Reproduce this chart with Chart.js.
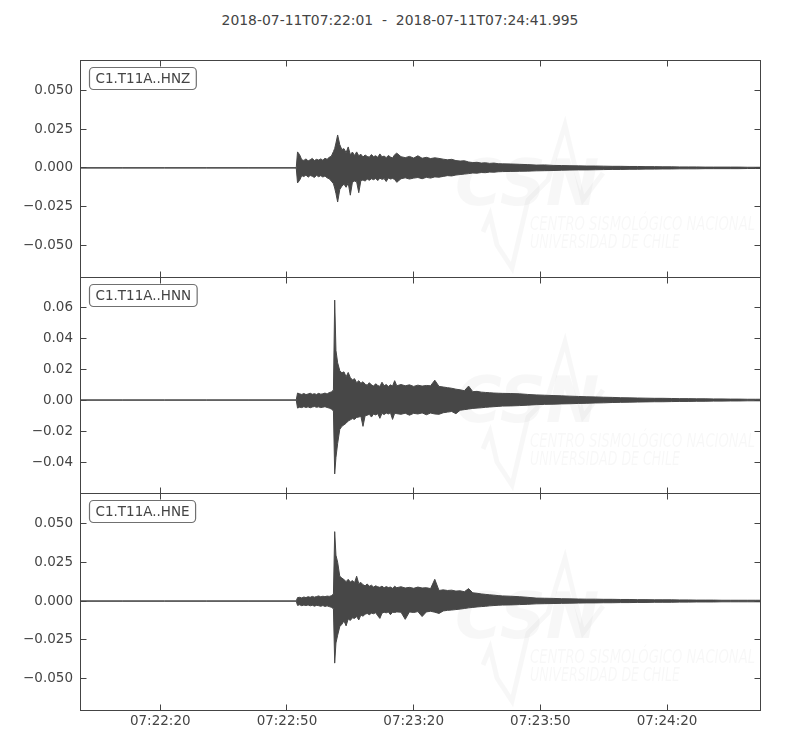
<!DOCTYPE html>
<html>
<head>
<meta charset="utf-8">
<script src="https://cdn.jsdelivr.net/npm/chart.js@4.4.1/dist/chart.umd.min.js"></script>
<style>
  body { margin: 0; background: #fff; width: 800px; height: 750px; position: relative; overflow: hidden; font-family: "DejaVu Sans", sans-serif; }
  #title { position: absolute; top: 12px; left: 0; width: 800px; text-align: center; font-size: 13.9px; line-height: 16px; color: #444; white-space: pre; }
  canvas { position: absolute; left: 0; }
</style>
</head>
<body>
<div id="title">2018-07-11T07:22:01  -  2018-07-11T07:24:41.995</div>
<canvas id="panelZ" width="800" height="237" style="top:50px"></canvas>
<canvas id="panelN" width="800" height="236" style="top:267px"></canvas>
<canvas id="panelE" width="800" height="257" style="top:483px"></canvas>
<script>
// seconds after 07:22:01
const timeSec = [
  0, 10, 20, 30, 40, 51.2,
  51.5, 52, 52.5, 53, 53.5, 54, 54.5, 55, 55.5, 56, 56.5, 57, 57.5, 58, 58.5, 59, 59.5, 60,
  60.3, 60.6,
  61, 61.5, 62, 62.5, 63, 63.5, 64, 64.5, 65, 65.5, 66, 66.5, 67, 67.5, 68, 68.5, 69, 69.5, 70, 70.5, 71, 71.5, 72, 72.5, 73, 73.5, 74, 74.5, 75,
  76, 77, 78, 79, 80, 81, 82, 83, 84, 85, 86, 87, 88, 89, 90, 91, 92, 93, 94, 95, 96, 97, 98, 99, 100,
  102, 104, 106, 108, 110, 112, 114, 116, 118, 120, 122, 124, 126, 128, 130, 132, 134, 136, 138, 140, 142, 144, 146, 148, 150, 152, 154, 156, 158, 160,
  161
];

// envelope (max / min) of each trace
const hnzUpper = [
  0.0001, 0.0001, 0.0001, 0.0001, 0.0001, 0.0001,
  0.0103, 0.0085, 0.0052, 0.0048, 0.0058, 0.0045, 0.0052, 0.0061, 0.0047, 0.0055, 0.0050, 0.0058, 0.0049, 0.0062, 0.0055, 0.0068, 0.0075, 0.0105,
  0.0125, 0.0160,
  0.0212, 0.0150, 0.0118, 0.0124, 0.0098, 0.0135, 0.0085, 0.0102, 0.0080, 0.0103, 0.0078, 0.0088, 0.0070, 0.0083, 0.0074, 0.0069, 0.0086, 0.0072, 0.0078, 0.0068, 0.0090, 0.0071, 0.0076, 0.0066, 0.0080, 0.0070, 0.0064, 0.0085, 0.0095,
  0.0072, 0.0066, 0.0074, 0.0063, 0.0078, 0.0062, 0.0068, 0.0060, 0.0065, 0.0061, 0.0056, 0.0052, 0.0055, 0.0047, 0.0044, 0.0046, 0.0038, 0.0034, 0.0036, 0.0031, 0.0033, 0.0029, 0.0031, 0.0027, 0.0026,
  0.0025, 0.0023, 0.0021, 0.0018, 0.0019, 0.0016, 0.0015, 0.0014, 0.0013, 0.0012, 0.0012, 0.0011, 0.0010, 0.0010, 0.0009, 0.0009, 0.0008, 0.0008, 0.0007, 0.0007, 0.0006, 0.0006, 0.0006, 0.0005, 0.0005, 0.0005, 0.0005, 0.0005, 0.0004, 0.0004,
  0.0004
];
const hnzLower = [
  -0.0001, -0.0001, -0.0001, -0.0001, -0.0001, -0.0001,
  -0.0097, -0.0080, -0.0050, -0.0056, -0.0046, -0.0060, -0.0049, -0.0054, -0.0062, -0.0048, -0.0057, -0.0050, -0.0059, -0.0052, -0.0064, -0.0070, -0.0085, -0.0102,
  -0.0130, -0.0165,
  -0.0220, -0.0140, -0.0118, -0.0105, -0.0125, -0.0098, -0.0176, -0.0092, -0.0085, -0.0090, -0.0160, -0.0082, -0.0078, -0.0085, -0.0072, -0.0080, -0.0070, -0.0076, -0.0068, -0.0082, -0.0066, -0.0074, -0.0069, -0.0088, -0.0065, -0.0072, -0.0068, -0.0075, -0.0093,
  -0.0070, -0.0064, -0.0072, -0.0066, -0.0062, -0.0070, -0.0061, -0.0066, -0.0058, -0.0060, -0.0055, -0.0050, -0.0052, -0.0046, -0.0043, -0.0040, -0.0037, -0.0033, -0.0034, -0.0030, -0.0031, -0.0027, -0.0028, -0.0025, -0.0024,
  -0.0023, -0.0022, -0.0021, -0.0019, -0.0018, -0.0017, -0.0015, -0.0014, -0.0013, -0.0013, -0.0012, -0.0011, -0.0010, -0.0010, -0.0009, -0.0009, -0.0008, -0.0008, -0.0007, -0.0007, -0.0006, -0.0006, -0.0006, -0.0005, -0.0005, -0.0005, -0.0005, -0.0005, -0.0004, -0.0004,
  -0.0004
];
const hnnUpper = [
  0.0001, 0.0001, 0.0001, 0.0001, 0.0001, 0.0001,
  0.0045, 0.0040, 0.0036, 0.0042, 0.0035, 0.0039, 0.0044, 0.0037, 0.0041, 0.0036, 0.0043, 0.0038, 0.0040, 0.0045, 0.0039, 0.0048, 0.0052, 0.0065,
  0.0645, 0.0320,
  0.0240, 0.0190, 0.0175, 0.0182, 0.0150, 0.0178, 0.0145, 0.0130, 0.0138, 0.0112, 0.0125, 0.0108, 0.0118, 0.0102, 0.0096, 0.0112, 0.0098, 0.0090, 0.0105, 0.0094, 0.0088, 0.0115, 0.0092, 0.0100, 0.0087, 0.0098, 0.0090, 0.0125, 0.0092,
  0.0100, 0.0092, 0.0098, 0.0088, 0.0096, 0.0090, 0.0094, 0.0092, 0.0128, 0.0088, 0.0084, 0.0080, 0.0076, 0.0070, 0.0066, 0.0060, 0.0090, 0.0054, 0.0056, 0.0051, 0.0049, 0.0047, 0.0045, 0.0044, 0.0043,
  0.0042, 0.0040, 0.0036, 0.0033, 0.0031, 0.0029, 0.0027, 0.0025, 0.0023, 0.0021, 0.0020, 0.0018, 0.0017, 0.0015, 0.0014, 0.0013, 0.0012, 0.0011, 0.0011, 0.0010, 0.0009, 0.0009, 0.0008, 0.0008, 0.0007, 0.0007, 0.0006, 0.0006, 0.0005, 0.0005,
  0.0005
];
const hnnLower = [
  -0.0001, -0.0001, -0.0001, -0.0001, -0.0001, -0.0001,
  -0.0052, -0.0046, -0.0049, -0.0043, -0.0048, -0.0044, -0.0050, -0.0045, -0.0042, -0.0047, -0.0044, -0.0049, -0.0046, -0.0043, -0.0048, -0.0052, -0.0058, -0.0070,
  -0.0477, -0.0370,
  -0.0280, -0.0190, -0.0170, -0.0160, -0.0150, -0.0135, -0.0128, -0.0120, -0.0125, -0.0112, -0.0110, -0.0105, -0.0170, -0.0102, -0.0098, -0.0092, -0.0110, -0.0090, -0.0096, -0.0088, -0.0118, -0.0086, -0.0094, -0.0084, -0.0090, -0.0082, -0.0125, -0.0085, -0.0088,
  -0.0092, -0.0085, -0.0098, -0.0086, -0.0090, -0.0083, -0.0095, -0.0084, -0.0090, -0.0092, -0.0082, -0.0078, -0.0074, -0.0088, -0.0066, -0.0062, -0.0058, -0.0054, -0.0052, -0.0050, -0.0047, -0.0045, -0.0043, -0.0041, -0.0039,
  -0.0038, -0.0036, -0.0033, -0.0030, -0.0028, -0.0027, -0.0025, -0.0024, -0.0022, -0.0021, -0.0019, -0.0018, -0.0016, -0.0015, -0.0014, -0.0013, -0.0012, -0.0011, -0.0011, -0.0010, -0.0009, -0.0009, -0.0008, -0.0008, -0.0007, -0.0007, -0.0006, -0.0006, -0.0005, -0.0005,
  -0.0005
];
const hneUpper = [
  0.0001, 0.0001, 0.0001, 0.0001, 0.0001, 0.0001,
  0.0022, 0.0024, 0.0020, 0.0026, 0.0022, 0.0028, 0.0024, 0.0030, 0.0025, 0.0029, 0.0033, 0.0027, 0.0031, 0.0028, 0.0032, 0.0030, 0.0034, 0.0045,
  0.0447, 0.0295,
  0.0250, 0.0160, 0.0148, 0.0138, 0.0125, 0.0140, 0.0122, 0.0132, 0.0118, 0.0160, 0.0112, 0.0120, 0.0105, 0.0098, 0.0110, 0.0095, 0.0102, 0.0090, 0.0098, 0.0092, 0.0088, 0.0096, 0.0085, 0.0093, 0.0087, 0.0090, 0.0082, 0.0095, 0.0086,
  0.0092, 0.0084, 0.0088, 0.0082, 0.0090, 0.0084, 0.0086, 0.0080, 0.0140, 0.0068, 0.0072, 0.0068, 0.0070, 0.0064, 0.0066, 0.0060, 0.0080, 0.0053, 0.0050, 0.0046, 0.0043, 0.0040, 0.0038, 0.0035, 0.0033,
  0.0031, 0.0028, 0.0024, 0.0019, 0.0018, 0.0017, 0.0015, 0.0014, 0.0013, 0.0012, 0.0012, 0.0011, 0.0011, 0.0010, 0.0010, 0.0009, 0.0009, 0.0008, 0.0008, 0.0008, 0.0007, 0.0007, 0.0006, 0.0006, 0.0006, 0.0005, 0.0005, 0.0005, 0.0005, 0.0005,
  0.0005
];
const hneLower = [
  -0.0001, -0.0001, -0.0001, -0.0001, -0.0001, -0.0001,
  -0.0028, -0.0024, -0.0030, -0.0026, -0.0029, -0.0025, -0.0031, -0.0027, -0.0033, -0.0028, -0.0030, -0.0034, -0.0029, -0.0035, -0.0031, -0.0036, -0.0040, -0.0050,
  -0.0400, -0.0270,
  -0.0220, -0.0165, -0.0150, -0.0128, -0.0160, -0.0115, -0.0125, -0.0108, -0.0112, -0.0100, -0.0122, -0.0090, -0.0098, -0.0085, -0.0080, -0.0088, -0.0078, -0.0082, -0.0075, -0.0095, -0.0112, -0.0078, -0.0072, -0.0076, -0.0070, -0.0088, -0.0072, -0.0074, -0.0070,
  -0.0072, -0.0118, -0.0070, -0.0074, -0.0068, -0.0100, -0.0070, -0.0066, -0.0072, -0.0080, -0.0064, -0.0060, -0.0058, -0.0055, -0.0052, -0.0048, -0.0044, -0.0041, -0.0038, -0.0036, -0.0034, -0.0031, -0.0029, -0.0027, -0.0026,
  -0.0025, -0.0023, -0.0021, -0.0018, -0.0017, -0.0016, -0.0015, -0.0014, -0.0013, -0.0012, -0.0012, -0.0011, -0.0011, -0.0010, -0.0010, -0.0009, -0.0009, -0.0008, -0.0008, -0.0008, -0.0007, -0.0007, -0.0006, -0.0006, -0.0006, -0.0005, -0.0005, -0.0005, -0.0005, -0.0005,
  -0.0005
];

const xTickSeconds = [19, 49, 79, 109, 139];
const xTickLabels = ['07:22:20', '07:22:50', '07:23:20', '07:23:50', '07:24:20'];
const hnzTicks = [-0.05, -0.025, 0, 0.025, 0.05];
const hnnTicks = [-0.04, -0.02, 0, 0.02, 0.04, 0.06];
const hneTicks = [-0.05, -0.025, 0, 0.025, 0.05];

const traceColor = '#474747';
const axisColor = '#444';

Chart.defaults.font.family = '"DejaVu Sans", sans-serif';
Chart.defaults.font.size = 13.5;
Chart.defaults.color = '#444';

// frame, inward ticks, station label and the faint CSN watermark
const panelPlugin = {
  id: 'seisPanel',
  beforeDatasetsDraw(chart) {
    const { ctx, chartArea: a } = chart;
    const logo = [[403, 172], [410, 155], [417, 185], [432, 208], [448, 140], [468, 120], [485, 65], [503, 140], [523, 113]];
    ctx.save();
    ctx.beginPath();
    ctx.rect(a.left, a.top, a.right - a.left, a.bottom - a.top);
    ctx.clip();
    ctx.strokeStyle = 'rgba(0,0,0,0.03)';
    ctx.fillStyle = 'rgba(0,0,0,0.03)';
    ctx.lineWidth = 5;
    ctx.beginPath();
    logo.forEach(([dx, dy], i) => {
      if (i === 0) ctx.moveTo(a.left + dx, a.top + dy);
      else ctx.lineTo(a.left + dx, a.top + dy);
    });
    ctx.stroke();
    ctx.font = 'italic bold 64px "DejaVu Sans"';
    ctx.fillText('CSN', a.left + 375, a.top + 145, 145);
    ctx.font = 'italic 19px "DejaVu Sans"';
    ctx.fillText('CENTRO SISMOLÓGICO NACIONAL', a.left + 450, a.top + 170, 225);
    ctx.fillText('UNIVERSIDAD DE CHILE', a.left + 450, a.top + 188, 150);
    ctx.restore();
  },
  afterDatasetsDraw(chart, args, opts) {
    const { ctx, chartArea: a, scales } = chart;
    const L = Math.floor(a.left) + 0.5, R = Math.floor(a.right) + 0.5;
    const T = Math.floor(a.top) + 0.5, B = Math.floor(a.bottom) + 0.5;
    ctx.save();
    ctx.strokeStyle = axisColor;
    ctx.lineWidth = 1;
    ctx.beginPath();
    xTickSeconds.forEach(v => {
      const px = Math.floor(scales.x.getPixelForValue(v)) + 0.5;
      ctx.moveTo(px, T); ctx.lineTo(px, T + 6);
      ctx.moveTo(px, B); ctx.lineTo(px, B - 6);
    });
    scales.y.ticks.forEach(t => {
      const py = Math.floor(scales.y.getPixelForValue(t.value)) + 0.5;
      ctx.moveTo(L, py); ctx.lineTo(L + 6, py);
      ctx.moveTo(R, py); ctx.lineTo(R - 6, py);
    });
    ctx.stroke();
    ctx.strokeRect(L, T, R - L, B - T);

    // station label box
    ctx.font = '13.5px "DejaVu Sans"';
    const w = ctx.measureText(opts.label).width + 12;
    const bx = Math.floor(a.left) + 9.5, by = Math.floor(a.top) + 7.5, bh = 22;
    ctx.beginPath();
    ctx.roundRect(bx, by, w, bh, 4);
    ctx.fillStyle = '#fff';
    ctx.fill();
    ctx.strokeStyle = '#707070';
    ctx.lineWidth = 1.2;
    ctx.stroke();
    ctx.fillStyle = '#444';
    ctx.textBaseline = 'middle';
    ctx.fillText(opts.label, bx + 6, by + bh / 2 + 1);
    ctx.restore();
  }
};

function makePanel(canvasId, label, upper, lower, yMin, yMax, yTicks, decimals, showTime) {
  const ctx = document.getElementById(canvasId).getContext('2d');
  return new Chart(ctx, {
    type: 'line',
    data: {
      datasets: [{
        data: timeSec.map((t, i) => ({ x: t, y: upper[i] })),
        borderColor: traceColor,
        backgroundColor: traceColor,
        borderWidth: 1,
        pointRadius: 0,
        tension: 0,
        fill: '+1'
      }, {
        data: timeSec.map((t, i) => ({ x: t, y: lower[i] })),
        borderColor: traceColor,
        borderWidth: 1,
        pointRadius: 0,
        tension: 0,
        fill: false
      }]
    },
    options: {
      responsive: false,
      animation: false,
      devicePixelRatio: 1,
      layout: { padding: { top: 10, bottom: showTime ? 0 : 10, left: 0, right: 40 } },
      plugins: {
        legend: { display: false },
        tooltip: { enabled: false },
        seisPanel: { label: label }
      },
      scales: {
        x: {
          type: 'linear',
          min: 0,
          max: 160.995,
          display: showTime,
          grid: { display: false, drawTicks: false },
          border: { display: false },
          ticks: {
            padding: 3,
            maxRotation: 0,
            autoSkip: false,
            callback: v => xTickLabels[xTickSeconds.indexOf(v)]
          },
          afterBuildTicks: s => { s.ticks = xTickSeconds.map(v => ({ value: v })); },
          afterFit: s => {
            s.height = showTime ? 30 : 0;
            s.paddingLeft = 0;
            s.paddingRight = 0;
          }
        },
        y: {
          min: yMin,
          max: yMax,
          grid: { display: false, drawTicks: false },
          border: { display: false },
          ticks: {
            padding: 7,
            autoSkip: false,
            callback: v => (v < 0 ? '\u2212' : '') + Math.abs(v).toFixed(decimals)
          },
          afterBuildTicks: s => { s.ticks = yTicks.map(v => ({ value: v })); },
          afterFit: s => {
            s.width = 80;
            s.paddingTop = 0;
            s.paddingBottom = 0;
          }
        }
      }
    },
    plugins: [panelPlugin]
  });
}

makePanel('panelZ', 'C1.T11A..HNZ', hnzUpper, hnzLower, -0.0703, 0.0695, hnzTicks, 3, false);
makePanel('panelN', 'C1.T11A..HNN', hnnUpper, hnnLower, -0.0600, 0.0794, hnnTicks, 2, false);
makePanel('panelE', 'C1.T11A..HNE', hneUpper, hneLower, -0.0702, 0.0696, hneTicks, 3, true);
</script>
</body>
</html>
